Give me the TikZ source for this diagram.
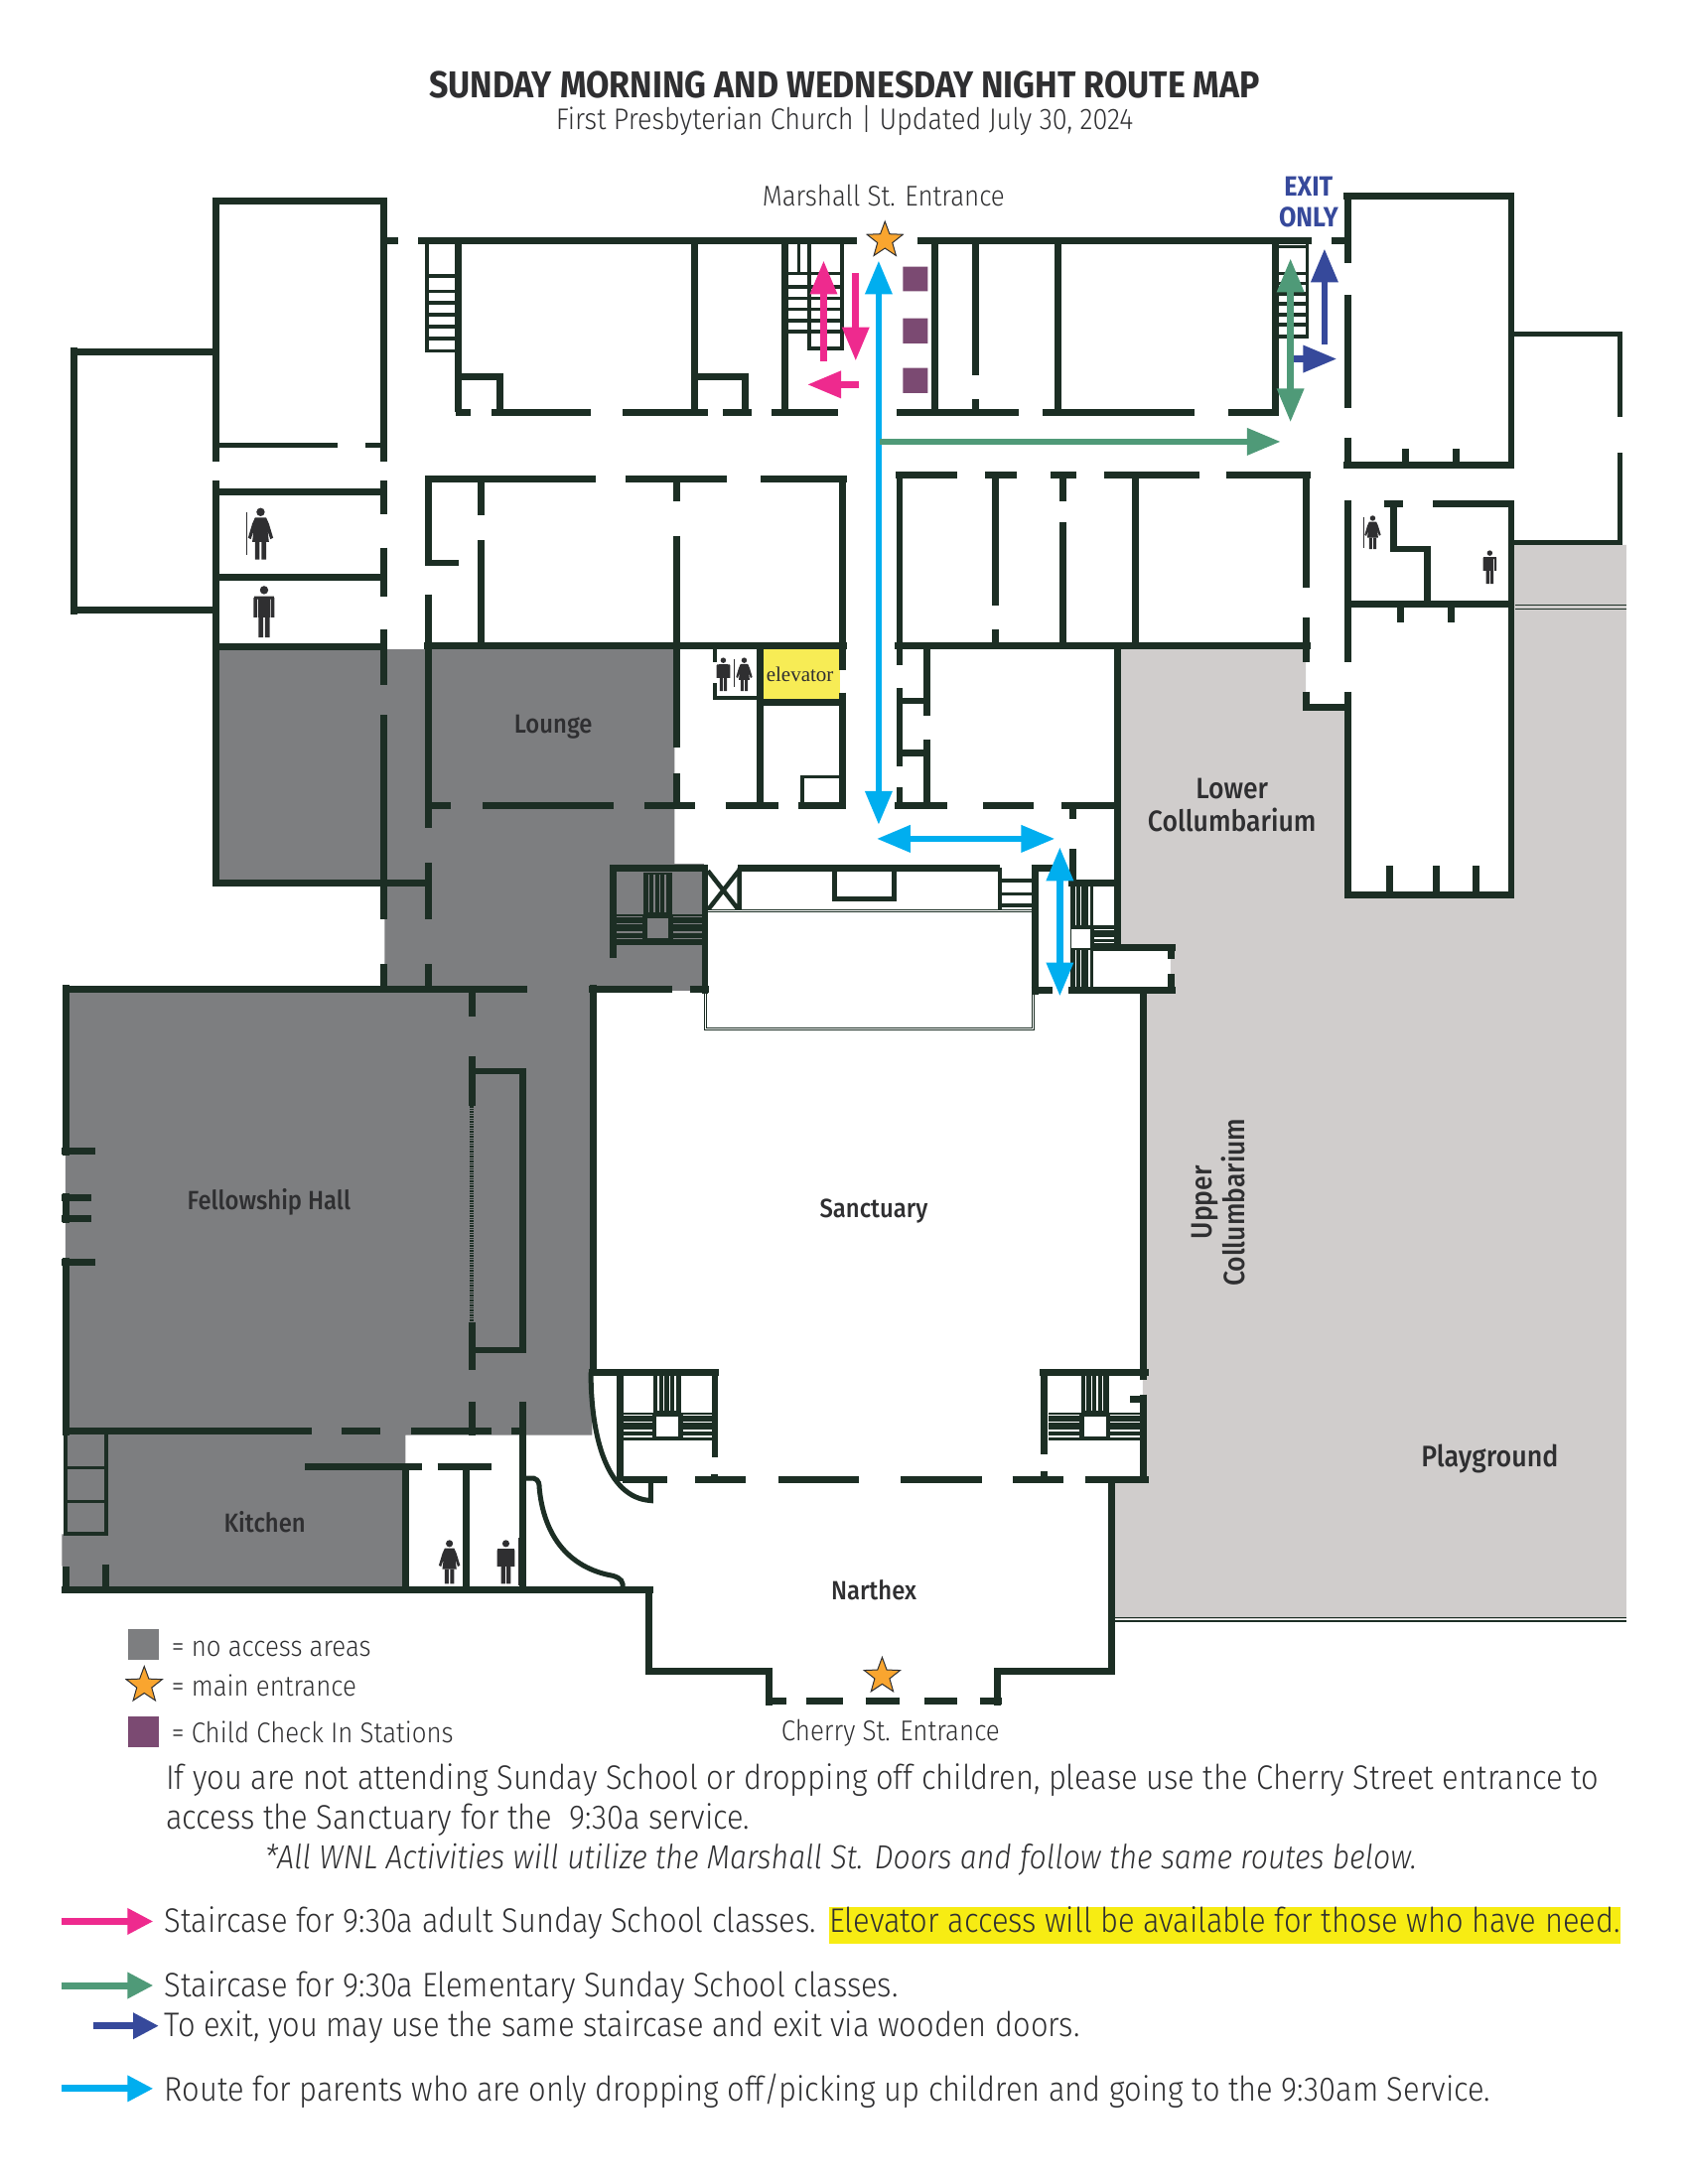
\documentclass[tikz,border=0pt]{standalone}
\usepackage{fontspec}
\setmainfont[FakeStretch=0.9]{Fira Sans Light}
\newfontfamily\labelfont[FakeStretch=0.9]{Fira Sans Medium}
\newfontfamily\titlefont[FakeStretch=0.9]{Fira Sans}
\usetikzlibrary{arrows.meta,shapes.geometric}
\definecolor{wallgreen}{HTML}{1C2E24}
\definecolor{noaccess}{HTML}{7D7E80}
\definecolor{yardgray}{HTML}{D0CDCC}
\definecolor{inkgray}{HTML}{2F2F31}
\definecolor{pinkroute}{HTML}{EE2A8E}
\definecolor{cyanroute}{HTML}{00AEEF}
\definecolor{greenroute}{HTML}{4F9A78}
\definecolor{blueroute}{HTML}{36499B}
\definecolor{checkin}{HTML}{7B4A72}
\definecolor{starfill}{HTML}{F9A52F}
\definecolor{liftyellow}{HTML}{F7EC55}
\definecolor{marker}{HTML}{F7EC13}
\tikzset{
  wall/.style={draw=wallgreen,line width=6.9pt,line cap=butt,line join=miter},
  thinwall/.style={draw=wallgreen,line width=3.6pt},
  tread/.style={draw=wallgreen,line width=3.6pt},
  route/.style={line width=6.6pt,-{Triangle[length=34pt,width=26pt]}},
  routeboth/.style={line width=6.6pt,{Triangle[length=34pt,width=26pt]}-{Triangle[length=34pt,width=26pt]}},
  keyarrow/.style={line width=7pt,-{Triangle[length=26pt,width=25pt]}},
  entrystar/.style={star,star points=5,star point ratio=2.4,minimum size=38pt,inner sep=0pt,fill=starfill,draw=inkgray,line width=1pt},
  maplabel/.style={font=\fontsize{28.8}{34}\selectfont,text=inkgray,align=center,inner sep=0pt},
  roomlabel/.style={font=\labelfont\fontsize{26.5}{32}\selectfont,text=inkgray,align=center,inner sep=0pt},
  keytext/.style={font=\fontsize{28.7}{34}\selectfont,text=inkgray,anchor=base west,inner sep=0pt},
  bodytext/.style={font=\fontsize{34.3}{38}\selectfont,text=inkgray,anchor=base west,inner sep=0pt},
}
% stair block: centre x, centre y, colour of the gaps
\newcommand{\stairset}[3]{%
  \begin{scope}[shift={(#1,#2)}]
    \fill[wallgreen] (-10,-40) rectangle (10,10);
    \fill[wallgreen] (-33.5,-10) rectangle (33.5,10.5);
    \foreach \sx in {-6.5,-2.5,1.5,5.5}
      \draw[#3,line width=1.4pt] (\sx,-38) -- (\sx,-11);
    \foreach \sy in {-8,-3,3,7.5} {
      \draw[#3,line width=1.4pt] (-33,\sy) -- (-11,\sy);
      \draw[#3,line width=1.4pt] (11,\sy) -- (33,\sy);
    }
    \fill[#3] (-7.7,-7) rectangle (7.7,7.5);
  \end{scope}}
% restroom figures: centre x, centre y, size
\newcommand{\manicon}[3]{%
  \begin{scope}[shift={(#1,#2)},scale=#3]
    \fill[inkgray] (0,-15.5) circle (3);
    \fill[inkgray] (-7,-11) rectangle (7,-9) (-7.5,-10) rectangle (-4.8,4) (4.8,-10) rectangle (7.5,4);
    \fill[inkgray] (-4.5,-11) rectangle (4.5,4);
    \fill[inkgray] (-4,4) rectangle (-.6,18.5) (.6,4) rectangle (4,18.5);
  \end{scope}}
\newcommand{\womanicon}[3]{%
  \begin{scope}[shift={(#1,#2)},scale=#3]
    \fill[inkgray] (0,-15.5) circle (3);
    \fill[inkgray] (-4,-11.5) -- (4,-11.5) -- (6,-7) -- (9,3) -- (7,4) -- (5,-2) -- (6,6) -- (-6,6) -- (-5,-2) -- (-7,4) -- (-9,3) -- (-6,-7) -- cycle;
    \fill[inkgray] (-4,6) rectangle (-.7,18.5) (.7,6) rectangle (4,18.5);
  \end{scope}}
\begin{document}
\begin{tikzpicture}[x=1.4035pt,y=-1.4035pt]
\useasboundingbox (0,0) rectangle (1211.3,1567.5);
% shaded areas
\fill[noaccess] (155,463) -- (275,463) -- (275,466) -- (305,466) -- (305,463) -- (484,463) -- (484,620) -- (505,620) -- (505,711) -- (425,711) -- (425,1030) -- (291,1030) -- (291,1141) -- (45,1141) -- (45,1124) -- (44.5,1124) -- (44.5,1101) -- (47,1101) -- (47,711) -- (276,711) -- (276,634) -- (155,634) -- cycle;
\fill[yardgray] (803,464) -- (937,464) -- (937,508) -- (967,508) -- (967,642) -- (1085,642) -- (1085,391) -- (1167,391) -- (1167,1162) -- (799,1162) -- (799,1061) -- (820,1061) -- (820,711) -- (840,711) -- (840,680) -- (803,680) -- cycle;
\fill[liftyellow] (547,466) rectangle (603,504);
\fill[white] (784,682) rectangle (838,709);
\fill[marker] (595,1369) rectangle (1163,1395);
% stairs
\stairset{472}{666}{noaccess}
\stairset{479}{1023.6}{white}
\stairset{785.7}{1023.6}{white}
\draw[tread] (306.5,173) -- (306.5,252) -- (329,252);
\foreach \ty in {198,209,217.5,226,234.5,243} \draw[tread] (306.5,\ty) -- (329,\ty);
\draw[tread] (573.3,173) -- (573.3,196.4);
\draw[tread] (580.5,173) -- (580.5,250) -- (604,250) -- (604,173);
\foreach \ty in {196.4,206,214,222,230,238} \draw[tread] (563,\ty) -- (604,\ty);
\foreach \ty in {177,196.4,203.5,210.7,218,225.7,233,241.6} \draw[tread] (915,\ty) -- (938,\ty);
\draw[tread] (938,173) -- (938,243);
\draw[thinwall] (717.6,623) -- (717.6,654);
\foreach \ty in {632,641.7,650} \draw[tread] (717.6,\ty) -- (743,\ty);
\fill[wallgreen] (768,634) rectangle (784.5,711);
\fill[wallgreen] (784,664) rectangle (802,680);
\foreach \sx in {772,775.4,781.6} {
  \draw[white,line width=1.3pt] (\sx,636) -- (\sx,664);
  \draw[white,line width=1.3pt] (\sx,682) -- (\sx,709);
}
\foreach \sy in {667.4,673.4,676.6} \draw[white,line width=1.3pt] (785,\sy) -- (801,\sy);
\fill[white] (769,667) rectangle (782,680.3);
% west wing
\draw[wall] (53,252.5) -- (155,252.5) (53,438) -- (155,438);
\draw[wall] (53,249.3) -- (53,441.2);
\draw[wall] (155,331) -- (155,144.4) -- (275.5,144.4) -- (275.5,331);
\draw[wall,line width=5pt] (155,319.5) -- (242.6,319.5) (262,319.5) -- (275.5,319.5);
\draw[wall] (155,345) -- (155,634) -- (307,634);
\draw[wall] (275.5,345) -- (275.5,369) (275.5,393) -- (275.5,428) (275.5,452) -- (275.5,491.5) (275.5,513) -- (275.5,660) (275.5,692) -- (275.5,710);
\draw[wall] (155,353) -- (275.5,353) (155,414) -- (275.5,414) (155,464) -- (275.5,464);
\draw[wall] (275,173) -- (286,173) (300,173) -- (614.7,173) (658,173) -- (941,173) (955.5,173) -- (967,173);
% north rooms
\draw[wall] (329,173) -- (329,296) (498.5,173) -- (498.5,296) (563.5,173) -- (563.5,296);
\draw[wall] (329,270.5) -- (359,270.5) -- (359,296) (498.5,270.5) -- (534.5,270.5) -- (534.5,296);
\draw[wall] (327,296) -- (338,296) (353,296) -- (424,296) (447,296) -- (508,296) (518.6,296) -- (539,296) (553.5,296) -- (601,296);
\draw[wall] (643.5,296) -- (731,296) (748,296) -- (857,296) (881,296) -- (918,296);
\draw[wall] (671,173) -- (671,296) (700,173) -- (700,269.5) (700,286.5) -- (700,296) (759,173) -- (759,296) (915,173) -- (915,296);
% middle rooms
\draw[wall] (305,343.6) -- (427.6,343.6) (449,343.6) -- (521.7,343.6) (546,343.6) -- (607.7,343.6);
\draw[wall] (307.7,343.6) -- (307.7,406) (307,404) -- (329,404) (307.7,426.6) -- (307.7,594) (307.7,619.5) -- (307.7,660) (307.7,692) -- (307.7,710);
\draw[wall] (345,343.6) -- (345,370) (345,387.5) -- (345,464);
\draw[wall] (485.7,343.6) -- (485.7,359.6) (485.7,384.4) -- (485.7,536.4) (485.7,555) -- (485.7,578);
\draw[wall] (604.5,343.6) -- (604.5,481) (604.5,497) -- (604.5,578);
\draw[wall] (304.5,463.6) -- (607.7,463.6);
\draw[wall] (545.7,464) -- (545.7,578) (545.7,504) -- (604.5,504);
\draw[thinwall] (512.8,464) -- (512.8,475) (512.8,490.5) -- (512.8,500.7) -- (545.7,500.7);
\draw[wall] (307,578) -- (323.5,578) (346.4,578) -- (440.4,578) (462.5,578) -- (499,578) (520.5,578) -- (558.4,578) (572.8,578) -- (607,578);
\draw[thinwall] (575.9,578) -- (575.9,557.5) -- (604.5,557.5);
\draw[wall] (643,341.2) -- (686.7,341.2) (707,341.2) -- (729.4,341.2) (754,341.2) -- (772.6,341.2) (792,341.2) -- (861,341.2) (879.6,341.2) -- (940.5,341.2);
\draw[wall] (645.5,341) -- (645.5,477.6) (642.3,463.6) -- (940.5,463.6);
\draw[wall] (714,341) -- (714,434.4) (714,451.4) -- (714,463.6) (763,341) -- (763,360) (763,375) -- (763,463.6) (814.5,341) -- (814.5,463.6);
\draw[wall] (937.3,341) -- (937.3,421.5) (937.3,443) -- (937.3,475) (937.3,496.3) -- (937.3,507.5) -- (967,507.5);
\draw[wall] (665,463.6) -- (665,513.6) (665,530.6) -- (665,578);
\draw[wall] (645.5,494) -- (645.5,550) (645.5,565.3) -- (645.5,578) (645.5,503) -- (665,503) (645.5,540.5) -- (665,540.5);
\draw[wall] (642.3,578) -- (679.4,578) (705.6,578) -- (741.8,578) (761.8,578) -- (802,578);
\draw[wall] (802,463.6) -- (802,680) (770,578) -- (770,587.5);
% east wing
\draw[wall] (967,141) -- (967,188.6) (967,211.7) -- (967,293) (967,314) -- (967,334);
\draw[wall] (963.8,141) -- (1084.4,141) -- (1084.4,334) -- (963.8,334);
\draw[wall] (1008.6,322) -- (1008.6,334) (1045,322) -- (1045,334);
\draw[wall,line width=5pt] (1084,240) -- (1162.6,240) -- (1162.6,299.4) (1162.6,325) -- (1162.6,389.5) -- (1084,389.5);
\draw[wall] (967,359) -- (967,475) (967,496.3) -- (967,642) -- (1084.4,642) -- (1084.4,361.6) -- (1028,361.6) (993,361.6) -- (1006.6,361.6);
\draw[wall] (1000,361.6) -- (1000,394) -- (1024,394) -- (1024,433.4) (967,433.4) -- (1084.4,433.4);
\draw[wall] (1005,433) -- (1005,447) (1041,433) -- (1041,447);
\draw[wall] (997.4,621.5) -- (997.4,641.6) (1030.5,621.5) -- (1030.5,641.6) (1059.4,621.5) -- (1059.4,641.6);
\draw[wallgreen,line width=1.2pt] (1087,434.5) -- (1167,434.5) (1087,437) -- (1167,437);
% north of sanctuary
\draw[wall] (440,687.6) -- (440,623) -- (505.9,623) -- (505.9,713.5) (422.5,710) -- (482,710) (495,710) -- (509,710);
\draw[wall,line width=4pt] (440,676.6) -- (505.9,676.6);
\draw[wall] (529.7,623) -- (717.6,623);
\draw[wall,line width=4.5pt] (530.6,623) -- (530.6,653.6) (508,625) -- (530,653) (508,653) -- (530,625);
\draw[wall,line width=5pt] (598.7,623) -- (598.7,645) -- (641.3,645) -- (641.3,623);
\draw[wallgreen,line width=.8pt,double=white,double distance=1.1pt] (506.4,713) -- (506.4,738.5) -- (741.5,738.5) -- (741.5,713);
\draw[wallgreen,line width=.8pt,double=white,double distance=1.1pt] (508,653.6) -- (743,653.6);
\draw[wall] (740,623) -- (757,623) (743,623) -- (743,714) (740,711) -- (755,711);
\draw[wall] (770,609.5) -- (770,632) (766.6,634) -- (802,634) (766.6,711) -- (843.9,711);
\draw[wall] (784,680) -- (843.9,680) (840.7,680) -- (840.7,688) (840.7,699) -- (840.7,711);
\draw[wall] (820.7,711) -- (820.7,990.5) (820.7,1000.7) -- (820.7,1062) (811,1004) -- (820.7,1004);
% fellowship hall and kitchen
\draw[wall] (45.7,710) -- (378,710);
\draw[wall] (47.6,707) -- (47.6,829) (44.4,826) -- (68.5,826) (44.4,859.6) -- (65.8,859.6) (47.6,856.4) -- (47.6,877.9) (44.4,874.7) -- (65.8,874.7) (44.4,906) -- (68.5,906) (47.6,903) -- (47.6,1030);
\draw[wall] (338.6,711.5) -- (338.6,729.5) (338.6,758) -- (338.6,794) (338.6,948.7) -- (338.6,983) (338.6,1006) -- (338.6,1030);
\draw[wallgreen,line width=4pt,dash pattern=on 1.5pt off 1pt] (338.6,794) -- (338.6,948.7);
\draw[wall] (338.6,768.8) -- (375,768.8) -- (375,969) -- (338.6,969) (375,1006) -- (375,1141);
\draw[wall] (46,1027) -- (223.7,1027) (245,1027) -- (272.8,1027) (295,1027) -- (352.6,1027) (367,1027) -- (377,1027);
\draw[wall] (219,1052.6) -- (302.6,1052.6) (314,1052.6) -- (352.6,1052.6);
\draw[wall] (291,1052.6) -- (291,1141) (334.8,1052.6) -- (334.8,1141);
\draw[thinwall] (47,1027) -- (47,1101) -- (76.2,1101) -- (76.2,1027) (47,1053.4) -- (76.2,1053.4) (47,1077.6) -- (76.2,1077.6);
\draw[wall] (47.6,1124.6) -- (47.6,1141) (76.2,1122.6) -- (76.2,1141);
\draw[wall] (44.4,1141) -- (468.8,1141);
\draw[wall,line width=5pt] (377,1061) -- (383,1061) .. controls (387,1062) and (387,1066) .. (387,1068) .. controls (390,1100) and (406,1125) .. (440,1131) .. controls (446,1133) and (447,1135) .. (447,1140);
% sanctuary and narthex
\draw[wall] (425.7,707) -- (425.7,985);
\draw[wall] (422.5,985) -- (516,985) (445,985) -- (445,1063) (513,985) -- (513,1046) (512.4,1057.8) -- (512.4,1063);
\draw[wall] (746,985) -- (824,985) (749,985) -- (749,1043.6) (749,1056) -- (749,1062);
\draw[wall,line width=5pt] (424,985) .. controls (424,1030) and (435,1075) .. (467,1077) -- (467,1062);
\draw[wall] (447,1062) -- (478.5,1062) (498.6,1062) -- (535,1062) (558.7,1062) -- (616.5,1062) (646.5,1062) -- (704.3,1062) (726.5,1062) -- (762.8,1062) (778.7,1062) -- (824,1062);
\draw[wall] (797.6,1062) -- (797.6,1199.5) -- (716,1199.5) -- (716,1223.9);
\draw[wall] (465.6,1141) -- (465.6,1199.5) -- (552,1199.5) -- (552,1223.9);
\draw[wall] (549.5,1220.7) -- (564,1220.7) (578.6,1220.7) -- (605,1220.7) (621,1220.7) -- (645.5,1220.7) (663.6,1220.7) -- (687,1220.7) (703,1220.7) -- (719,1220.7);
\draw[wallgreen,line width=1.2pt] (800,1161) -- (1167,1161) (800,1163.5) -- (1167,1163.5);
% check in stations
\fill[checkin] (648,191.4) rectangle (665.7,209) (648,228.5) rectangle (665.7,246.4) (648,264) rectangle (665.7,282);
% routes
\draw[route,pinkroute] (591,259) -- (591,187);
\draw[route,pinkroute] (614,196) -- (614,259);
\draw[route,pinkroute] (616.6,276) -- (579.3,276);
\draw[routeboth,cyanroute] (630.5,187) -- (630.5,592);
\draw[routeboth,cyanroute] (629,602) -- (757,602);
\draw[routeboth,cyanroute] (760.5,608) -- (760.5,715);
\draw[route,greenroute] (631,317) -- (919,317);
\draw[route,blueroute] (950.4,247.4) -- (950.4,178.4);
\draw[route,blueroute] (925.4,257.6) -- (959.3,257.6);
\draw[routeboth,greenroute] (926,185.5) -- (926,303);
% restroom signs
\womanicon{187}{383}{1}
\manicon{189.5}{439}{1}
\manicon{519}{484}{.65}
\womanicon{534}{484}{.65}
\womanicon{985}{382}{.65}
\manicon{1069}{407}{.65}
\womanicon{322.5}{1121}{.85}
\manicon{363}{1121}{.85}
\draw[inkgray,line width=.5pt] (177,368) -- (177,398) (526.6,473) -- (526.6,493) (978.6,371) -- (978.6,393) (372,1104) -- (372,1138);
% entrance stars
\node[entrystar] (marshallstar) at (635,172.5) {};
\node[entrystar] (cherrystar) at (633,1203) {};
% titles
\node[font=\titlefont\fontsize{37.7}{44}\selectfont\bfseries,text=inkgray,inner sep=0pt] (maptitle) at (606,61) {SUNDAY MORNING AND WEDNESDAY NIGHT ROUTE MAP};
\node[maplabel,font=\fontsize{30}{34}\selectfont] (mapsubtitle) at (606,86.5) {First Presbyterian Church | Updated July 30, 2024};
\node[maplabel] (marshalllabel) at (634,140) {Marshall St. Entrance};
\node[maplabel] (cherrylabel) at (639,1243.5) {Cherry St. Entrance};
\node[roomlabel,text=blueroute,font=\titlefont\fontsize{28}{31}\selectfont\bfseries] (exitlabel) at (939,145) {EXIT\\ONLY};
% room names
\node[roomlabel] (lounge) at (397,521.5) {Lounge};
\node[inner sep=0pt,text=inkgray,font=\fontsize{21}{25}\selectfont] (elevator) at (574,484) {\fontspec{Liberation Serif}elevator};
\node[roomlabel,font=\labelfont\fontsize{29.5}{33}\selectfont] (lowercol) at (884,578) {Lower\\Collumbarium};
\node[roomlabel,font=\labelfont\fontsize{29.5}{33}\selectfont,rotate=90] (uppercol) at (874,863) {Upper\\Collumbarium};
\node[roomlabel] (fellowship) at (193,863) {Fellowship Hall};
\node[roomlabel] (sanctuary) at (627,869.5) {Sanctuary};
\node[roomlabel] (narthex) at (627,1141) {Narthex};
\node[roomlabel] (kitchen) at (190,1092) {Kitchen};
\node[roomlabel,font=\labelfont\fontsize{29.8}{34}\selectfont] (playground) at (1069,1047) {Playground};
% key
\fill[noaccess] (92,1169) rectangle (114,1191);
\node[entrystar] (keystar) at (103.5,1209.5) {};
\fill[checkin] (92,1232) rectangle (114,1254);
\node[keytext] (keygray) at (123,1189) {= no access areas};
\node[keytext] (keyentry) at (123,1217) {= main entrance};
\node[keytext] (keycheck) at (123,1251) {= Child Check In Stations};
% notes
\node[bodytext] (notea) at (119,1284) {If you are not attending Sunday School or dropping off children, please use the Cherry Street entrance to};
\node[bodytext] (noteb) at (119,1313) {access the Sanctuary for the\ \ 9:30a service.};
\node[bodytext,font=\fontsize{33.6}{38}\selectfont\itshape] (notec) at (190,1341) {*All WNL Activities will utilize the Marshall St. Doors and follow the same routes below.};
\node[bodytext] (routepink) at (118,1387) {Staircase for 9:30a adult Sunday School classes.};
\node[bodytext] (routelift) at (595,1387) {Elevator access will be available for those who have need.};
\node[bodytext] (routegreen) at (118,1433) {Staircase for 9:30a Elementary Sunday School classes.};
\node[bodytext] (routeblue) at (118,1462) {To exit, you may use the same staircase and exit via wooden doors.};
\node[bodytext] (routecyan) at (118,1508) {Route for parents who are only dropping off/picking up children and going to the 9:30am Service.};
\coordinate (keypink) at (44,1379);
\coordinate (keygreen) at (44,1425);
\coordinate (keyblue) at (67,1454);
\coordinate (keycyan) at (44,1499);
\draw[keyarrow,pinkroute] (keypink) -- ++(66,0);
\draw[keyarrow,greenroute] (keygreen) -- ++(66,0);
\draw[keyarrow,blueroute] (keyblue) -- ++(47,0);
\draw[keyarrow,cyanroute] (keycyan) -- ++(66,0);
\end{tikzpicture}
\end{document}
